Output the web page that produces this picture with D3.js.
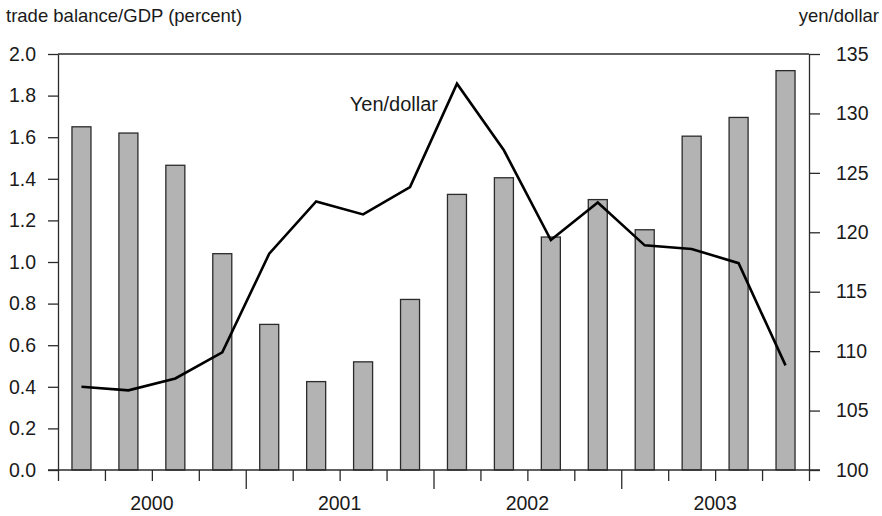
<!DOCTYPE html>
<html>
<head>
<meta charset="utf-8">
<script src="https://cdn.jsdelivr.net/npm/d3@7"></script>
<style>
body{margin:0;background:#fff;}
text{font-family:"Liberation Sans",Arial,sans-serif;fill:#1a1a1a;}
</style>
</head>
<body>
<svg id="chart" width="882" height="516"></svg>
<script>
let quarters=["2000Q1","2000Q2","2000Q3","2000Q4","2001Q1","2001Q2","2001Q3","2001Q4",
              "2002Q1","2002Q2","2002Q3","2002Q4","2003Q1","2003Q2","2003Q3","2003Q4"]
let years=["2000","2001","2002","2003"]
let tradeBalance=[1.65,1.62,1.465,1.04,0.70,0.425,0.52,0.82,1.325,1.405,1.12,1.30,1.155,1.605,1.695,1.92]
let yenDollar=[107.0,106.7,107.7,109.9,118.2,122.6,121.5,123.8,132.5,126.9,119.35,122.5,118.9,118.6,117.4,108.8]
let leftTicks=[0,0.2,0.4,0.6,0.8,1.0,1.2,1.4,1.6,1.8,2.0]
let rightTicks=[100,105,110,115,120,125,130,135]

let svg=d3.select("#chart")
let pLeft=58,pRight=809,pTop=54,pBottom=470
let fs="18.5px"
let tickFs="19.5px"

let x=d3.scaleBand().domain(quarters).range([pLeft,pRight]).paddingInner(0.595).paddingOuter(0.2975)
let qx=d3.scaleLinear().domain([0,quarters.length]).range([pLeft,pRight])//quarter boundaries
let yL=d3.scaleLinear().domain([0,2]).range([pBottom,pTop])
let yR=d3.scaleLinear().domain([100,135]).range([pBottom,pTop])

// bars
svg.selectAll("rect.bar")
   .data(tradeBalance)
   .enter()
   .append("rect")
   .attr("class","bar")
   .attr("x",(d,i)=>x(quarters[i]))
   .attr("width",x.bandwidth())
   .attr("y",d=>yL(d))
   .attr("height",d=>yL(0)-yL(d))
   .attr("fill","#b3b3b3")
   .attr("stroke","#2b2b2b")
   .attr("stroke-width",1.3)

// yen line
let line=d3.line()
   .x((d,i)=>x(quarters[i])+x.bandwidth()/2)
   .y(d=>yR(d))
svg.append("path")
   .datum(yenDollar)
   .attr("d",line)
   .attr("fill","none")
   .attr("stroke","#000")
   .attr("stroke-width",2.6)
   .attr("stroke-linejoin","miter")

// frame top
svg.append("line").attr("x1",pLeft).attr("x2",pRight).attr("y1",pTop).attr("y2",pTop)
   .attr("stroke","#2b2b2b").attr("stroke-width",1.3)

// left axis
let gL=svg.append("g").attr("transform","translate("+pLeft+",0)")
   .call(d3.axisLeft(yL).tickValues(leftTicks).tickFormat(d3.format(".1f")).tickSize(10).tickSizeOuter(0).tickPadding(12))
// right axis
let gR=svg.append("g").attr("transform","translate("+pRight+",0)")
   .call(d3.axisRight(yR).tickValues(rightTicks).tickSize(11).tickSizeOuter(0).tickPadding(16))
// bottom axis: quarter ticks, longer at year boundaries
let gB=svg.append("g").attr("transform","translate(0,"+pBottom+")")
   .call(d3.axisBottom(qx).tickValues(d3.range(0,quarters.length+1)).tickFormat("").tickSizeOuter(0)
   .tickSize(11))
gB.selectAll(".tick line").attr("y2",d=>(d%4===0&&d>0&&d<16)?19:11)

;[gL,gR,gB].forEach(g=>{
   g.select(".domain").attr("stroke","#2b2b2b").attr("stroke-width",1.3)
   g.selectAll(".tick line").attr("stroke","#2b2b2b").attr("stroke-width",1.3)
   g.selectAll("text").style("font-size",tickFs).attr("fill","#1a1a1a")
})
gB.select(".domain").attr("d","M"+(pLeft-10)+",0H"+(pRight+11))

// year labels
svg.selectAll("text.year")
   .data(years)
   .enter()
   .append("text")
   .attr("class","year")
   .attr("x",(d,i)=>(qx(i*4)+qx(i*4+4))/2)
   .attr("y",510)
   .attr("text-anchor","middle")
   .style("font-size",tickFs)
   .text(d=>d)

// titles
svg.append("text").attr("x",6).attr("y",22).style("font-size",fs).text("trade balance/GDP (percent)")
svg.append("text").attr("x",879).attr("y",22).attr("text-anchor","end").style("font-size",fs).text("yen/dollar")
svg.append("text").attr("x",438).attr("y",111).attr("text-anchor","end").style("font-size","20px").text("Yen/dollar")
</script>
</body>
</html>
